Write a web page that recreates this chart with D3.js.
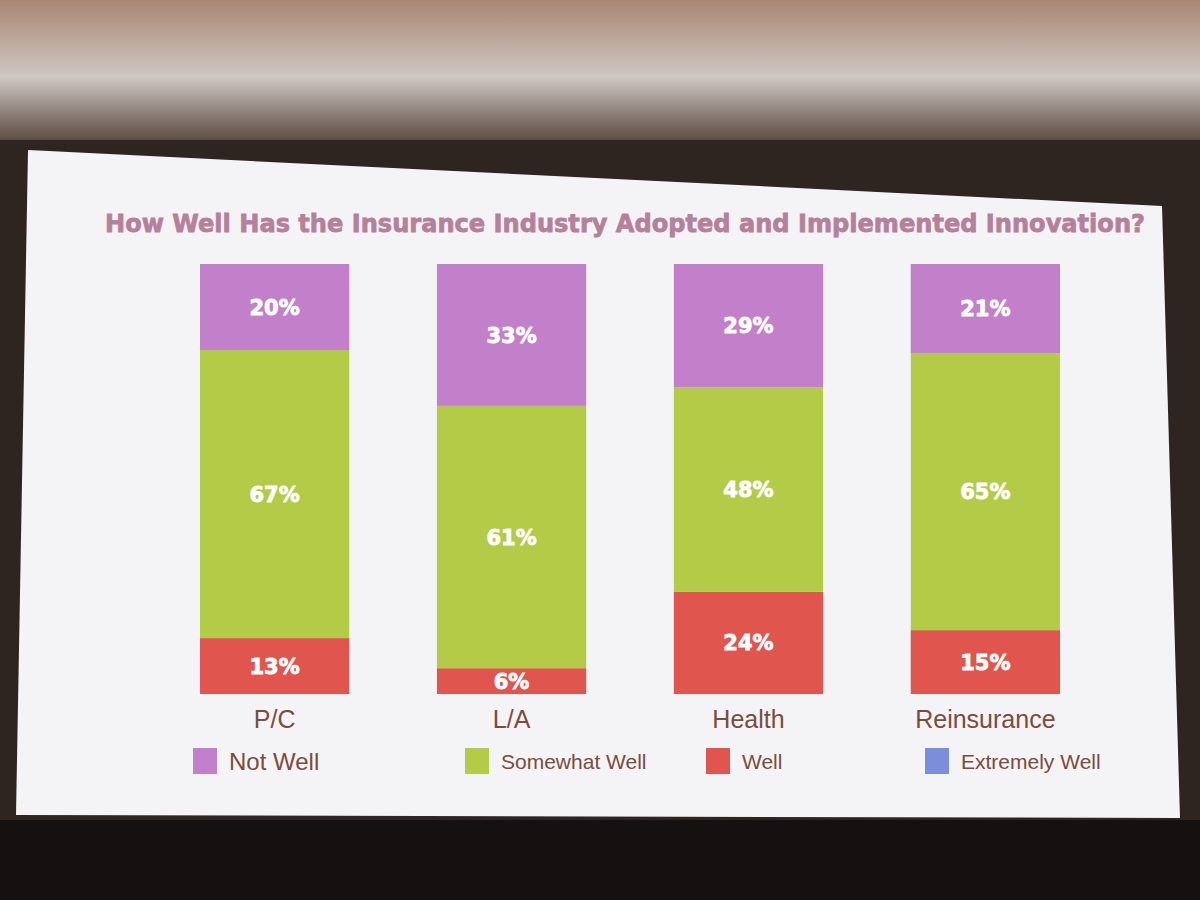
<!DOCTYPE html>
<html><head><meta charset="utf-8">
<script src="https://cdn.jsdelivr.net/npm/d3@7/dist/d3.min.js"></script>
<style>html,body{margin:0;padding:0;background:#2e2521;}svg{display:block;}</style>
</head><body>
<svg id="c" width="1200" height="900"></svg>
<script>
const categories = ["P/C", "L/A", "Health", "Reinsurance"];
const seriesNames = ["Not Well", "Somewhat Well", "Well", "Extremely Well"];
const notWell = [20, 33, 29, 21];
const somewhatWell = [67, 61, 48, 65];
const well = [13, 6, 24, 15];
const extremelyWell = [0, 0, 0, 0];
const colors = ["#c27fca", "#b3cb47", "#e0554e", "#7b8ddb"];

const svg = d3.select("#c");
const W = 1200, H = 900;

// background (room + ceiling)
const defs = svg.append("defs");
const g1 = defs.append("linearGradient").attr("id","ceil").attr("x1",0).attr("x2",0).attr("y1",0).attr("y2",1);
g1.append("stop").attr("offset","0%").attr("stop-color","#a88672");
g1.append("stop").attr("offset","55%").attr("stop-color","#cfc8c3");
g1.append("stop").attr("offset","100%").attr("stop-color","#5e4d43");
svg.append("rect").attr("width",W).attr("height",H).attr("fill","#2e2521");
svg.append("rect").attr("width",W).attr("height",140).attr("fill","url(#ceil)");
svg.append("rect").attr("y",820).attr("width",W).attr("height",80).attr("fill","#141110");

// slide
svg.append("polygon")
  .attr("points","28,150 1162,206 1180,818 16,815")
  .attr("fill","#f4f4f7");

// title
svg.append("text")
  .attr("x",105).attr("y",232)
  .attr("textLength",1040).attr("lengthAdjust","spacingAndGlyphs")
  .attr("font-family","DejaVu Sans").attr("font-weight","bold")
  .attr("font-size",25).attr("fill","#b5809a")
  .attr("stroke","#b5809a").attr("stroke-width",0.8)
  .text("How Well Has the Insurance Industry Adopted and Implemented Innovation?");

// data table
const table = categories.map((c,i)=>({
  cat:c,
  "Not Well":notWell[i],
  "Somewhat Well":somewhatWell[i],
  "Well":well[i],
  "Extremely Well":extremelyWell[i]
}));
const stackKeys = ["Extremely Well","Well","Somewhat Well","Not Well"];
const stack = d3.stack().keys(stackKeys).offset(d3.stackOffsetExpand);
const layers = stack(table);

const x = d3.scaleBand().domain(categories).range([200,1060]).paddingInner(0.37).paddingOuter(0.0);
const y = d3.scaleLinear().domain([0,1]).range([694,264]);
const color = d3.scaleOrdinal().domain(seriesNames).range(colors);

const gBars = svg.append("g");
layers.forEach(layer=>{
  const key = layer.key;
  const g = gBars.append("g");
  g.selectAll("rect").data(layer).join("rect")
    .attr("x",d=>x(d.data.cat))
    .attr("width",x.bandwidth())
    .attr("y",d=>y(d[1]))
    .attr("height",d=>Math.max(0,y(d[0])-y(d[1])))
    .attr("fill",color(key));
  g.selectAll("text").data(layer.filter(d=>d.data[key]>0)).join("text")
    .attr("x",d=>x(d.data.cat)+x.bandwidth()/2)
    .attr("y",d=>(y(d[0])+y(d[1]))/2)
    .attr("dy","0.36em")
    .attr("text-anchor","middle")
    .attr("font-family","DejaVu Sans").attr("font-weight","bold")
    .attr("font-size",21).attr("fill","#ffffff")
    .attr("stroke","#ffffff").attr("stroke-width",0.8)
    .text(d=>d.data[key]+"%");
});

// category axis
const xAxis = svg.append("g").attr("transform","translate(0,694)")
  .call(d3.axisBottom(x).tickSize(0).tickPadding(16));
xAxis.select(".domain").remove();
xAxis.selectAll("text")
  .attr("font-family","Liberation Sans Narrow, Liberation Sans, Arial")
  .attr("font-size",25).attr("fill","#7a4c3e");

// legend
const legendX = d3.scaleOrdinal().domain(seriesNames).range([193,465,706,925]);
const lg = svg.append("g").attr("transform","translate(0,748)");
const items = lg.selectAll("g").data(seriesNames).join("g")
  .attr("transform",d=>`translate(${legendX(d)},0)`);
items.append("rect").attr("width",24).attr("height",26).attr("fill",d=>color(d));
items.append("text").attr("x",36).attr("y",13).attr("dy","0.36em")
  .attr("font-family","Liberation Sans Narrow, Liberation Sans, Arial")
  .attr("font-size",(d,i)=>i===0?24:21).attr("fill","#7a4c3e")
  .text(d=>d);
</script>
</body></html>
